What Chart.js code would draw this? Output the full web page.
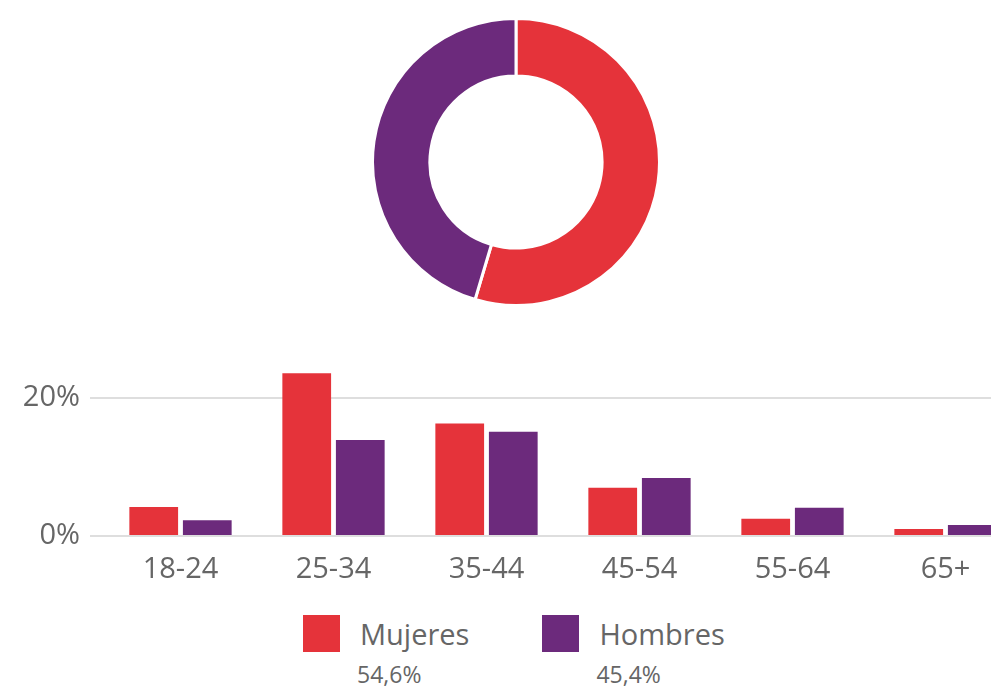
<!DOCTYPE html>
<html lang="es">
<head>
<meta charset="utf-8">
<title>Edad y sexo</title>
<script src="https://cdn.jsdelivr.net/npm/chart.js@4/dist/chart.umd.min.js"></script>
<style>
    html, body {
        margin: 0;
        padding: 0;
        width: 991px;
        height: 689px;
        overflow: hidden;
        background: #fff;
        font-family: "Open Sans", sans-serif;
    }

    #gender-chart {
        position: absolute;
        left: 371px;
        top: 17px;
    }

    #age-chart {
        position: absolute;
        left: 0;
        top: 343px;
    }

    .legend {
        position: absolute;
        top: 615px;
        left: 303px;
        display: flex;
        color: #666;
    }

    .legend-item {
        display: flex;
        align-items: flex-start;
        margin-right: 73px;
    }

    .legend-box {
        width: 37px;
        height: 37px;
        margin-right: 20px;
    }

    .legend-label {
        font-size: 29px;
        line-height: 36px;
        margin-top: 1px;
    }

    .legend-share {
        font-size: 23px;
        line-height: 26px;
        margin-top: 9px;
        margin-left: -3px;
    }
</style>
</head>
<body>
<canvas id="gender-chart" width="290" height="290"></canvas>
<canvas id="age-chart" width="1022" height="247"></canvas>
<div class="legend" id="legend"></div>

<script>
const genderLabels = ["Mujeres", "Hombres"];
const genderShares = [54.6, 45.4];
const genderColors = ["#e5333a", "#6c2a7c"];

const ageGroups = ["18-24", "25-34", "35-44", "45-54", "55-64", "65+"];
const womenShares = [4.2, 23.6, 16.3, 7.0, 2.5, 1.0];
const menShares = [2.3, 13.9, 15.1, 8.4, 4.1, 1.6];
const yTicks = [0, 20];

const textColor = "#666";
const fontFamily = "'Open Sans', sans-serif";

function formatShare(value) {
    return `${value.toFixed(1).replace(".", ",")}%`;
}

function renderGenderChart() {
    const ctx = document.getElementById("gender-chart");

    new Chart(ctx, {
        type: "doughnut",
        data: {
            labels: genderLabels,
            datasets: [
                {
                    data: genderShares,
                    backgroundColor: genderColors,
                    borderColor: "#fff",
                    borderWidth: 3
                }
            ]
        },
        options: {
            responsive: false,
            animation: false,
            cutout: "60%",
            plugins: {
                legend: { display: false },
                tooltip: { enabled: false }
            }
        }
    });
}

function renderAgeChart() {
    const ctx = document.getElementById("age-chart");

    new Chart(ctx, {
        type: "bar",
        data: {
            labels: ageGroups,
            datasets: [
                {
                    label: genderLabels[0],
                    data: womenShares,
                    backgroundColor: genderColors[0],
                    categoryPercentage: 0.7,
                    barPercentage: 0.91
                },
                {
                    label: genderLabels[1],
                    data: menShares,
                    backgroundColor: genderColors[1],
                    categoryPercentage: 0.7,
                    barPercentage: 0.91
                }
            ]
        },
        options: {
            responsive: false,
            animation: false,
            layout: {
                padding: { top: 13, right: 0, left: 0, bottom: 0 }
            },
            plugins: {
                legend: { display: false },
                tooltip: { enabled: false }
            },
            scales: {
                x: {
                    grid: { display: false, drawTicks: false },
                    border: { display: false },
                    ticks: {
                        color: textColor,
                        padding: 16,
                        font: { family: fontFamily, size: 29 }
                    },
                    afterFit(scale) {
                        scale.height = 54;
                    }
                },
                y: {
                    min: 0,
                    max: 24,
                    border: { display: false },
                    grid: {
                        color: "#dedede",
                        lineWidth: 2,
                        tickLength: 14
                    },
                    ticks: {
                        color: textColor,
                        padding: 10,
                        font: { family: fontFamily, size: 29 },
                        callback(value) {
                            return `${value}%`;
                        }
                    },
                    afterBuildTicks(axis) {
                        axis.ticks = yTicks.map(value => ({ value }));
                    },
                    afterFit(scale) {
                        scale.width = 104;
                    }
                }
            }
        }
    });
}

function renderLegend() {
    const legend = document.getElementById("legend");

    genderLabels.forEach((label, index) => {
        const item = document.createElement("div");
        item.className = "legend-item";

        const box = document.createElement("div");
        box.className = "legend-box";
        box.style.background = genderColors[index];

        const text = document.createElement("div");
        const name = document.createElement("div");
        name.className = "legend-label";
        name.textContent = label;
        const share = document.createElement("div");
        share.className = "legend-share";
        share.textContent = formatShare(genderShares[index]);

        text.appendChild(name);
        text.appendChild(share);
        item.appendChild(box);
        item.appendChild(text);
        legend.appendChild(item);
    });
}

renderGenderChart();
renderAgeChart();
renderLegend();
</script>
</body>
</html>
